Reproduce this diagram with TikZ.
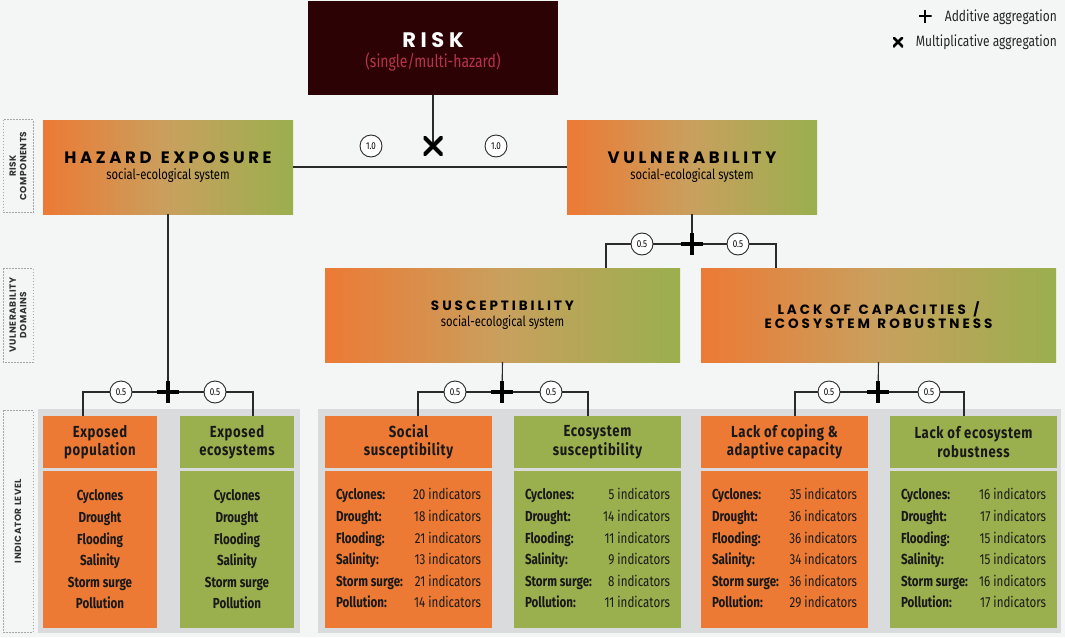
\documentclass[tikz,border=0pt]{standalone}
\usepackage{fontspec}
\setmainfont{Fira Sans}
\newfontfamily\capfont[LetterSpace=22,WordSpace=1.3]{Poppins}
\newfontfamily\labfont[LetterSpace=6]{Poppins}
\newfontfamily\cond[FakeStretch=0.8]{Fira Sans}
\newfontfamily\headfont[FakeStretch=0.82,LetterSpace=4]{Fira Sans}
\definecolor{bg}{HTML}{F4F5F5}
\definecolor{panel}{HTML}{DADBDC}
\definecolor{oran}{HTML}{EC7A35}
\definecolor{gree}{HTML}{9AAF4E}
\definecolor{tanc}{HTML}{C9A05E}
\definecolor{riskc}{HTML}{2C0204}
\definecolor{riskred}{HTML}{B8344A}
\definecolor{linec}{HTML}{2A2A2A}
\tikzset{
  conn/.style={draw=linec, line width=1.1pt},
  grad/.style={left color=oran, right color=gree, middle color=tanc, anchor=north west,
    inner sep=0pt, outer sep=0pt, align=center, minimum height=94pt},
  sidelab/.style={draw=black!35, dash pattern=on 1.5pt off 1.5pt, line width=0.6pt, rotate=90,
    inner sep=0pt, outer sep=0pt, minimum height=30pt, align=center,
    font=\labfont\bfseries\fontsize{9}{10.5}\selectfont, text=black!80},
  wt/.style={circle, draw=linec, line width=0.9pt, fill=white, minimum size=22pt, inner sep=0pt,
    font=\cond\fontsize{10}{10}\selectfont},
  plusop/.style={minimum size=22pt, inner sep=0pt, outer sep=0pt,
    path picture={\draw[line width=4pt, black] (path picture bounding box.north)--(path picture bounding box.south)
      (path picture bounding box.west)--(path picture bounding box.east);}},
  timesop/.style={minimum size=19pt, inner sep=0pt, outer sep=0pt,
    path picture={\draw[line width=4.2pt, black] (path picture bounding box.north west)--(path picture bounding box.south east)
      (path picture bounding box.south west)--(path picture bounding box.north east);}},
  legplus/.style={minimum size=13pt, inner sep=0pt, outer sep=0pt,
    path picture={\draw[line width=2.8pt, black] (path picture bounding box.north)--(path picture bounding box.south)
      (path picture bounding box.west)--(path picture bounding box.east);}},
  legtimes/.style={minimum size=10pt, inner sep=0pt, outer sep=0pt,
    path picture={\draw[line width=2.8pt, black] (path picture bounding box.north west)--(path picture bounding box.south east)
      (path picture bounding box.south west)--(path picture bounding box.north east);}},
  legtext/.style={anchor=east, inner sep=0pt, font=\cond\fontsize{15}{17}\selectfont, text=black!85},
  hdr/.style={anchor=north west, minimum height=52pt, inner sep=0pt, outer sep=0pt, align=center,
    font=\headfont\bfseries\fontsize{16}{18.5}\selectfont, text=black!90},
  bdy/.style={anchor=north west, minimum height=157pt, inner sep=0pt, outer sep=0pt,
    font=\cond\fontsize{14.5}{21.6}\selectfont, text=black!90},
}
\newcommand\subt[1]{{\cond\fontsize{14}{16}\selectfont #1}}
\newcommand\bigt[1]{{\bfseries\capfont\fontsize{16.5}{20}\selectfont #1}}
\newcommand\midt[1]{{\bfseries\capfont\fontsize{13.5}{17}\selectfont #1}}
\begin{document}
\begin{tikzpicture}[x=1pt,y=-1pt]
\useasboundingbox (0,0) rectangle (1065,637);
\fill[bg] (0,0) rectangle (1065,637);
% panels
\fill[panel] (38,409) rectangle (300,633);
\fill[panel] (318,409) rectangle (1061,633);
% risk
\node[fill=riskc, anchor=north west, minimum width=250pt, minimum height=94pt, inner sep=0pt, outer sep=0pt] (risk) at (308,1) {};
\node[inner sep=0pt, font=\capfont\bfseries\fontsize{21}{24}\selectfont, text=white] (risktitle) at (433,40) {RISK};
\node[inner sep=0pt, font=\cond\fontsize{17.5}{18}\selectfont, text=riskred] (risksub) at (433,62) {(single/multi-hazard)};
% legend
\node[legplus] (lp) at (925,16) {};
\node[legtext] (lpt) at (1057,17) {Additive aggregation};
\node[legtimes] (lx) at (898,42) {};
\node[legtext] (lxt) at (1057,42) {Multiplicative aggregation};
% side labels
\node[sidelab, minimum width=93pt] (sl1) at (18,166) {RISK\\COMPONENTS};
\node[sidelab, minimum width=94pt] (sl2) at (18,315) {VULNERABILITY\\DOMAINS};
\node[sidelab, minimum width=222pt] (sl3) at (18,521) {INDICATOR LEVEL};
% risk components
\node[grad, minimum width=250pt] (haz) at (43,120) {\rule{0pt}{8pt}\bigt{HAZARD EXPOSURE}\\[4pt]\subt{social-ecological system}};
\node[grad, minimum width=250pt] (vul) at (567,120) {\rule{0pt}{8pt}\bigt{VULNERABILITY}\\[4pt]\subt{social-ecological system}};
% domains
\node[grad, minimum width=355pt] (sus) at (325,268) {\midt{SUSCEPTIBILITY}\\[4pt]\subt{social-ecological system}};
\node[grad, minimum width=355pt] (lac) at (701,268) {\midt{LACK OF CAPACITIES /}\\[1.5pt]\midt{ECOSYSTEM ROBUSTNESS}};
% indicator headers
\node[hdr, fill=oran, minimum width=114pt] (eph) at (43,416) {Exposed\\population};
\node[hdr, fill=gree, minimum width=114pt] (eeh) at (180,416) {Exposed\\ecosystems};
\node[hdr, fill=oran, minimum width=167pt] (ssh) at (325,416) {Social\\susceptibility};
\node[hdr, fill=gree, minimum width=167pt] (esh) at (514,416) {Ecosystem\\susceptibility};
\node[hdr, fill=oran, minimum width=167pt] (lch) at (701,416) {Lack of coping \&\\adaptive capacity};
\node[hdr, fill=gree, minimum width=167pt] (lrh) at (890,416) {Lack of ecosystem\\robustness};
% indicator bodies
\node[bdy, fill=oran, minimum width=114pt, align=center, font=\cond\bfseries\fontsize{14.5}{21.6}\selectfont] (epb) at (43,471)
  {Cyclones\\Drought\\Flooding\\Salinity\\Storm surge\\Pollution};
\node[bdy, fill=gree, minimum width=114pt, align=center, font=\cond\bfseries\fontsize{14.5}{21.6}\selectfont] (eeb) at (180,471)
  {Cyclones\\Drought\\Flooding\\Salinity\\Storm surge\\Pollution};
\node[bdy, fill=oran, minimum width=167pt] (ssb) at (325,471)
  {\begin{tabular*}{145pt}{@{}l@{\extracolsep{\fill}}r@{}}
   \textbf{Cyclones:} & 20 indicators\\ \textbf{Drought:} & 18 indicators\\ \textbf{Flooding:} & 21 indicators\\
   \textbf{Salinity:} & 13 indicators\\ \textbf{Storm surge:} & 21 indicators\\ \textbf{Pollution:} & 14 indicators
   \end{tabular*}};
\node[bdy, fill=gree, minimum width=167pt] (esb) at (514,471)
  {\begin{tabular*}{145pt}{@{}l@{\extracolsep{\fill}}r@{}}
   \textbf{Cyclones:} & 5 indicators\\ \textbf{Drought:} & 14 indicators\\ \textbf{Flooding:} & 11 indicators\\
   \textbf{Salinity:} & 9 indicators\\ \textbf{Storm surge:} & 8 indicators\\ \textbf{Pollution:} & 11 indicators
   \end{tabular*}};
\node[bdy, fill=oran, minimum width=167pt] (lcb) at (701,471)
  {\begin{tabular*}{145pt}{@{}l@{\extracolsep{\fill}}r@{}}
   \textbf{Cyclones:} & 35 indicators\\ \textbf{Drought:} & 36 indicators\\ \textbf{Flooding:} & 36 indicators\\
   \textbf{Salinity:} & 34 indicators\\ \textbf{Storm surge:} & 36 indicators\\ \textbf{Pollution:} & 29 indicators
   \end{tabular*}};
\node[bdy, fill=gree, minimum width=167pt] (lrb) at (890,471)
  {\begin{tabular*}{145pt}{@{}l@{\extracolsep{\fill}}r@{}}
   \textbf{Cyclones:} & 16 indicators\\ \textbf{Drought:} & 17 indicators\\ \textbf{Flooding:} & 15 indicators\\
   \textbf{Salinity:} & 15 indicators\\ \textbf{Storm surge:} & 16 indicators\\ \textbf{Pollution:} & 17 indicators
   \end{tabular*}};
% junction coordinates
\coordinate (mult) at (433,146);
\coordinate (pv) at (692,244);
\coordinate (p1) at (168,392);
\coordinate (p2) at (502,392);
\coordinate (p3) at (878,392);
% connectors
\draw[conn] (risk.south) -- (mult);
\draw[conn] (haz.east) -- (vul.west);
\draw[conn] (haz.south) -- (p1);
\draw[conn] (vul.south) -- (pv);
\draw[conn] ([xshift=281pt]sus.north west) |- (pv) -| ([xshift=75pt]lac.north west);
\draw[conn] (sus.south) -- (p2);
\draw[conn] (lac.south) -- (p3);
\draw[conn] ([xshift=40pt]eph.north west) |- (p1) -| ([xshift=73pt]eeh.north west);
\draw[conn] ([xshift=93pt]ssh.north west) |- (p2) -| ([xshift=74pt]esh.north west);
\draw[conn] ([xshift=94pt]lch.north west) |- (p3) -| ([xshift=74pt]lrh.north west);
% weights
\node[wt] (w1) at (371,146) {1.0};
\node[wt] (w2) at (496,146) {1.0};
\node[wt] (w3) at (642,244) {0.5};
\node[wt] (w4) at (738,244) {0.5};
\node[wt] (w5) at (121,392) {0.5};
\node[wt] (w6) at (215,392) {0.5};
\node[wt] (w7) at (455,392) {0.5};
\node[wt] (w8) at (551,392) {0.5};
\node[wt] (w9) at (829,392) {0.5};
\node[wt] (w10) at (929,392) {0.5};
% operators
\node[timesop] (x1) at (mult) {};
\node[plusop] (o1) at (pv) {};
\node[plusop] (o2) at (p1) {};
\node[plusop] (o3) at (p2) {};
\node[plusop] (o4) at (p3) {};
\end{tikzpicture}
\end{document}
